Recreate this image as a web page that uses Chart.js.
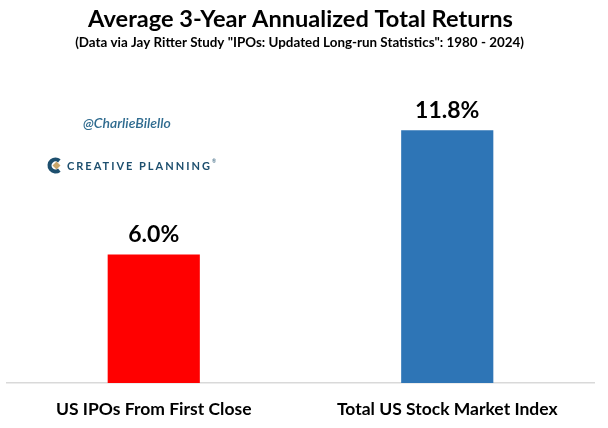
<!DOCTYPE html>
<html>
<head>
<meta charset="utf-8">
<script src="https://cdn.jsdelivr.net/npm/chart.js@4"></script>
<style>
  html, body { margin: 0; padding: 0; background: #ffffff; }
  #wrap { width: 608px; height: 428px; position: relative; }
</style>
</head>
<body>
<div id="wrap"><canvas id="c" width="608" height="428"></canvas></div>
<script>
const categories = ["US IPOs From First Close", "Total US Stock Market Index"];
const returnsPct = [6.0, 11.8];
const barColors = ["#ff0000", "#2e75b6"];
const titleText = "Average 3-Year Annualized Total Returns";
const subtitleText = "(Data via Jay Ritter Study \"IPOs: Updated Long-run Statistics\": 1980 - 2024)";
const handleText = "@CharlieBilello";
const brandText = "CREATIVE PLANNING";

const FONT = "Lato, 'Liberation Sans', sans-serif";

const decorPlugin = {
  id: 'decor',
  afterDraw(chart) {
    const ctx = chart.ctx;
    ctx.save();
    // Title
    ctx.fillStyle = '#000000';
    ctx.textAlign = 'center';
    ctx.textBaseline = 'alphabetic';
    ctx.font = "700 23.6px " + FONT;
    ctx.fillText(titleText, 300.5, 27);
    ctx.font = "700 13.4px " + FONT;
    ctx.fillText(subtitleText, 299.5, 47);

    // Handle watermark
    ctx.textAlign = 'left';
    ctx.fillStyle = '#2f6b8f';
    ctx.font = "italic 600 14px " + FONT;
    ctx.fillText(handleText, 83, 128);

    // Logo icon
    ctx.strokeStyle = '#1d4f6e';
    ctx.lineWidth = 4;
    ctx.beginPath();
    ctx.arc(55.5, 165.5, 6, 0.28 * Math.PI, 1.72 * Math.PI);
    ctx.stroke();
    ctx.fillStyle = '#c9a66b';
    ctx.beginPath();
    ctx.moveTo(56.5, 161.5);
    ctx.lineTo(60.5, 165.5);
    ctx.lineTo(56.5, 169.5);
    ctx.lineTo(52.5, 165.5);
    ctx.closePath();
    ctx.fill();

    // Brand text
    ctx.fillStyle = '#1d4f6e';
    ctx.font = "700 11px " + FONT;
    try { ctx.letterSpacing = '2px'; } catch (e) {}
    ctx.fillText(brandText, 67, 170);
    try { ctx.letterSpacing = '0px'; } catch (e) {}
    ctx.font = "5px " + FONT;
    ctx.fillText("®", 212, 163);

    // Value labels
    ctx.fillStyle = '#000000';
    ctx.textAlign = 'center';
    ctx.textBaseline = 'alphabetic';
    ctx.font = "700 23px " + FONT;
    const meta = chart.getDatasetMeta(0);
    meta.data.forEach((bar, i) => {
      ctx.fillText(returnsPct[i].toFixed(1) + '%', bar.x, bar.y - 12);
    });
    ctx.restore();
  }
};

new Chart(document.getElementById('c'), {
  type: 'bar',
  data: {
    labels: categories,
    datasets: [{
      data: returnsPct,
      backgroundColor: barColors,
      borderWidth: 0,
      barPercentage: 0.314,
      categoryPercentage: 1.0
    }]
  },
  options: {
    responsive: false,
    animation: false,
    devicePixelRatio: 1,
    layout: { padding: { left: 7, right: 14, top: 83, bottom: 0 } },
    plugins: {
      legend: { display: false },
      title: { display: false },
      tooltip: { enabled: false }
    },
    scales: {
      x: {
        grid: { display: false, drawTicks: false },
        border: { display: true, color: '#d9d9d9', width: 1.5 },
        afterFit(scale) { scale.height = 45; },
        ticks: {
          color: '#000000',
          padding: 16,
          font: { family: FONT, size: 17.5, weight: '700' }
        }
      },
      y: {
        display: false,
        min: 0,
        max: 14
      }
    }
  },
  plugins: [decorPlugin]
});
</script>
</body>
</html>
